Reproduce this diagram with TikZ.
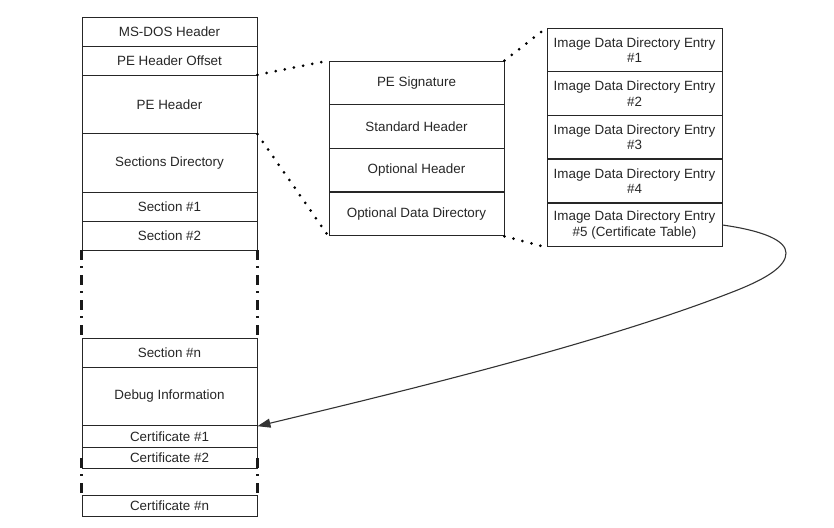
\documentclass[tikz,border=0pt]{standalone}
\usepackage{fontspec}
\setmainfont{Liberation Sans}
\usetikzlibrary{arrows.meta}
\begin{document}
\begin{tikzpicture}[x=1pt,y=-1pt,
  blk/.style={draw=black!85, line width=0.9pt, minimum width=175pt, inner sep=0pt,
    font=\fontsize{13.4}{15.3}\selectfont, text=black!85, align=center},
  h21/.style={blk, minimum height=21.5pt},
  h29/.style={blk, minimum height=29pt},
  h44/.style={blk, minimum height=43.75pt},
  h59/.style={blk, minimum height=58.5pt},
  gapline/.style={draw=black!90, line width=2.6pt, line cap=butt,
    dash pattern=on 9.5pt off 6.5pt on 1.6pt off 7.4pt},
  zoomline/.style={draw=black, line width=3pt, line cap=round,
    dash pattern=on 0pt off 9.3pt},
  link/.style={draw=black!80, line width=1.1pt, -{Triangle[length=13pt,width=9pt]}}]
\useasboundingbox (0,0) rectangle (834,527);

% file layout column
\node[h29] (msdos)  at (169.5,31.5)  {MS-DOS Header};
\node[h29] (peoff)  at (169.5,60.5)  {PE Header Offset};
\node[h59] (peh)    at (169.5,104.5) {PE Header};
\node[h59] (secdir) at (169.5,163)   {Sections Directory};
\node[h29] (sec1)   at (169.5,206.5) {Section \#1};
\node[h29] (sec2)   at (169.5,235.5) {Section \#2};
\node[h29] (secn)   at (169.5,352.5) {Section \#n};
\node[h59] (debug)  at (169.5,396.5) {Debug Information};
\node[h21] (cert1)  at (169.5,436.5) {Certificate \#1};
\node[h21] (cert2)  at (169.5,458)   {Certificate \#2};
\node[h21] (certn)  at (169.5,506)   {Certificate \#n};

% elided regions
\draw[gapline] (sec2.south west) -- (secn.north west);
\draw[gapline] (sec2.south east) -- (secn.north east);
\draw[gapline] (cert2.west) -- (certn.north west);
\draw[gapline] (cert2.east) -- (certn.north east);

% PE header breakdown
\node[h44] (sig)  at (416.5,83)    {PE Signature};
\node[h44] (std)  at (416.5,126.5) {Standard Header};
\node[h44] (opt)  at (416.5,170)   {Optional Header};
\node[h44] (odd)  at (416.5,214)   {Optional Data Directory};

% data directory entries
\node[h44] (e1) at (634.5,50)    {Image Data Directory Entry\\\#1};
\node[h44] (e2) at (634.5,93.5)  {Image Data Directory Entry\\\#2};
\node[h44] (e3) at (634.5,137)   {Image Data Directory Entry\\\#3};
\node[h44] (e4) at (634.5,181)   {Image Data Directory Entry\\\#4};
\node[h44] (e5) at (634.5,225)   {Image Data Directory Entry\\\#5 (Certificate Table)};

% zoom-in guides
\draw[zoomline] (peh.north east) -- (sig.north west);
\draw[zoomline] (peh.south east) -- (odd.south west);
\draw[zoomline] (sig.north east) -- (e1.north west);
\draw[zoomline] (odd.south east) -- (e5.south west);

% certificate table pointer
\coordinate (bendA) at (786,253);
\coordinate (bendB) at (735,291);
\draw[link] (e5.east) .. controls (765,231) and (786,241) .. (bendA)
  .. controls (786,266) and (768,278) .. (bendB)
  .. controls (603,343) and (400,392) .. (debug.south east);
\end{tikzpicture}
\end{document}
